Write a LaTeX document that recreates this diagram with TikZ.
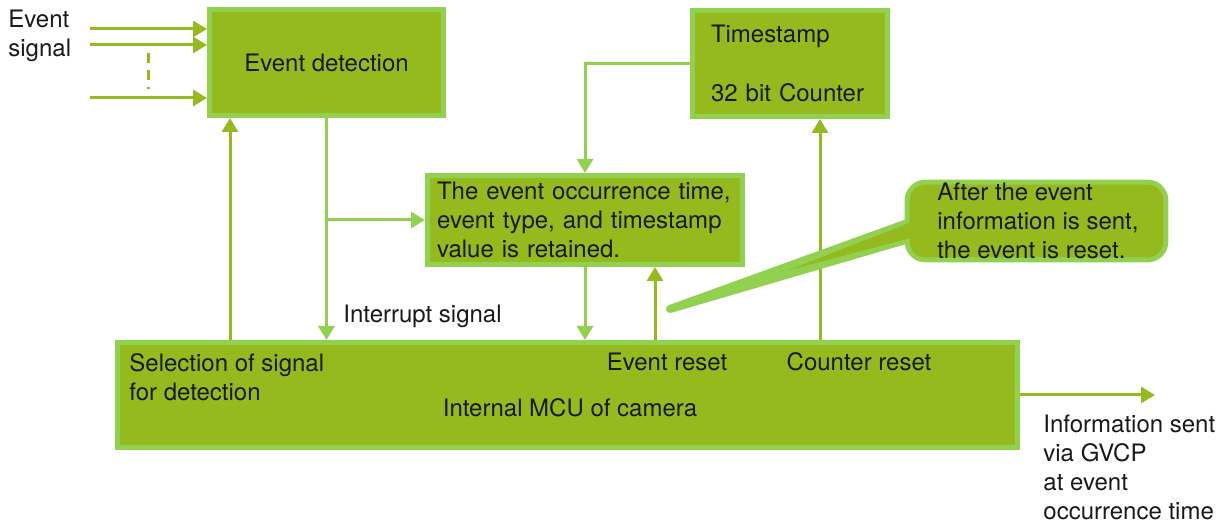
\documentclass[tikz,border=0pt]{standalone}
\usepackage{fontspec}
\setmainfont{TeX Gyre Heros}
\usetikzlibrary{arrows.meta,calc,backgrounds}
\definecolor{lightleaf}{RGB}{146,208,80}
\definecolor{darkleaf}{RGB}{148,186,30}

\begin{document}
\begin{tikzpicture}[x=0.5pt,y=-0.5pt,
  every node/.style={font=\fontsize{12}{14.5}\selectfont,text=black!90},
  block/.style={draw=lightleaf,fill=darkleaf,line width=2.5pt,inner sep=0pt},
  plain/.style={inner sep=0pt,align=left},
  darkarrow/.style={draw=darkleaf,line width=1.5pt,-{Triangle[length=7pt,width=8pt]}},
  lightarrow/.style={draw=lightleaf,line width=1.5pt,-{Triangle[length=7pt,width=8pt]}}]
  \useasboundingbox (0,0) rectangle (1227,522);

  \node[block,minimum width=117pt,minimum height=53pt] (detect) at (326.5,62.5) {Event detection};
  \node[block,align=left,text width=79pt,inner xsep=9.25pt,minimum height=53pt] (stamp) at (790,63.5)
    {Timestamp\\[15pt]32 bit Counter};
  \node[block,align=left,text width=148pt,inner xsep=4.75pt,minimum height=44.5pt] (retain) at (585,220)
    {The event occurrence time,\\event type, and timestamp\\value is retained.};
  \node[block,minimum width=450pt,minimum height=52.5pt] (mcu) at (567.5,395) {};

  \node[plain,anchor=west] (sig) at (8,36) {Event\\signal};
  \node[plain,anchor=west] (sellabel) at (129,377) {Selection of signal\\for detection};
  \node[plain] (evreset) at (667,362) {Event reset};
  \node[plain] (cntreset) at (859,362) {Counter reset};
  \node[plain] (mcutext) at (570,408) {Internal MCU of camera};
  \node[plain,anchor=west] (intlabel) at (343,316) {Interrupt signal};
  \node[plain,anchor=west] (outlabel) at (1043,467) {Information sent\\via GVCP\\at event\\occurrence time};

  \coordinate (in1) at (90,29);
  \coordinate (in2) at (90,45);
  \coordinate (in3) at (90,98);
  \coordinate (dash1) at (148,53);
  \coordinate (dash2) at (148,89);
  \coordinate (selx) at (230,0);
  \coordinate (resetx) at (655,0);
  \coordinate (countx) at (820,0);
  \coordinate (out) at (1155,395);
  \coordinate (tip) at (670,309);

  \begin{scope}[on background layer]
    \draw[darkarrow] (in1) -- (in1 -| detect.west);
    \draw[darkarrow] (in2) -- (in2 -| detect.west);
    \draw[darkarrow] (in3) -- (in3 -| detect.west);
    \draw[darkleaf,line width=1.5pt,dash pattern=on 5pt off 3.5pt] (dash1) -- (dash2);
    \draw[darkarrow] (mcu.north -| selx) -- (detect.south -| selx);
    \draw[lightarrow] (detect.south) -- (detect.south |- mcu.north);
    \draw[lightarrow] (detect.south |- retain.west) -- (retain.west);
    \draw[lightarrow] (stamp.west) -| (retain.north);
    \draw[lightarrow] (retain.south) -- (retain.south |- mcu.north);
    \draw[darkarrow] (mcu.north -| resetx) -- (retain.south -| resetx);
    \draw[darkarrow] (mcu.north -| countx) -- (stamp.south -| countx);
    \draw[darkarrow] (mcu.east) -- (out);
  \end{scope}

  \node[inner sep=0pt,minimum width=126.5pt,minimum height=36pt] (callout) at (1036.5,221) {};
  \draw[lightleaf,fill=lightleaf,line width=5pt,line join=round,rounded corners=8pt]
    (callout.south west) rectangle (callout.north east);
  \draw[lightleaf,fill=lightleaf,line width=4pt,line join=round]
    (tip) -- ($(callout.west)+(20,-6)$) -- ($(callout.west)+(20,12)$) -- cycle;
  \fill[darkleaf,rounded corners=8pt] (callout.south west) rectangle (callout.north east);
  \fill[darkleaf] ($(tip)!0.45!($(callout.west)+(20,3)$)$) -- ($(callout.west)+(20,-6)$) -- ($(callout.west)+(20,12)$) -- cycle;
  \node[plain,anchor=west] (callouttext) at (937,221) {After the event\\information is sent,\\the event is reset.};
\end{tikzpicture}
\end{document}
